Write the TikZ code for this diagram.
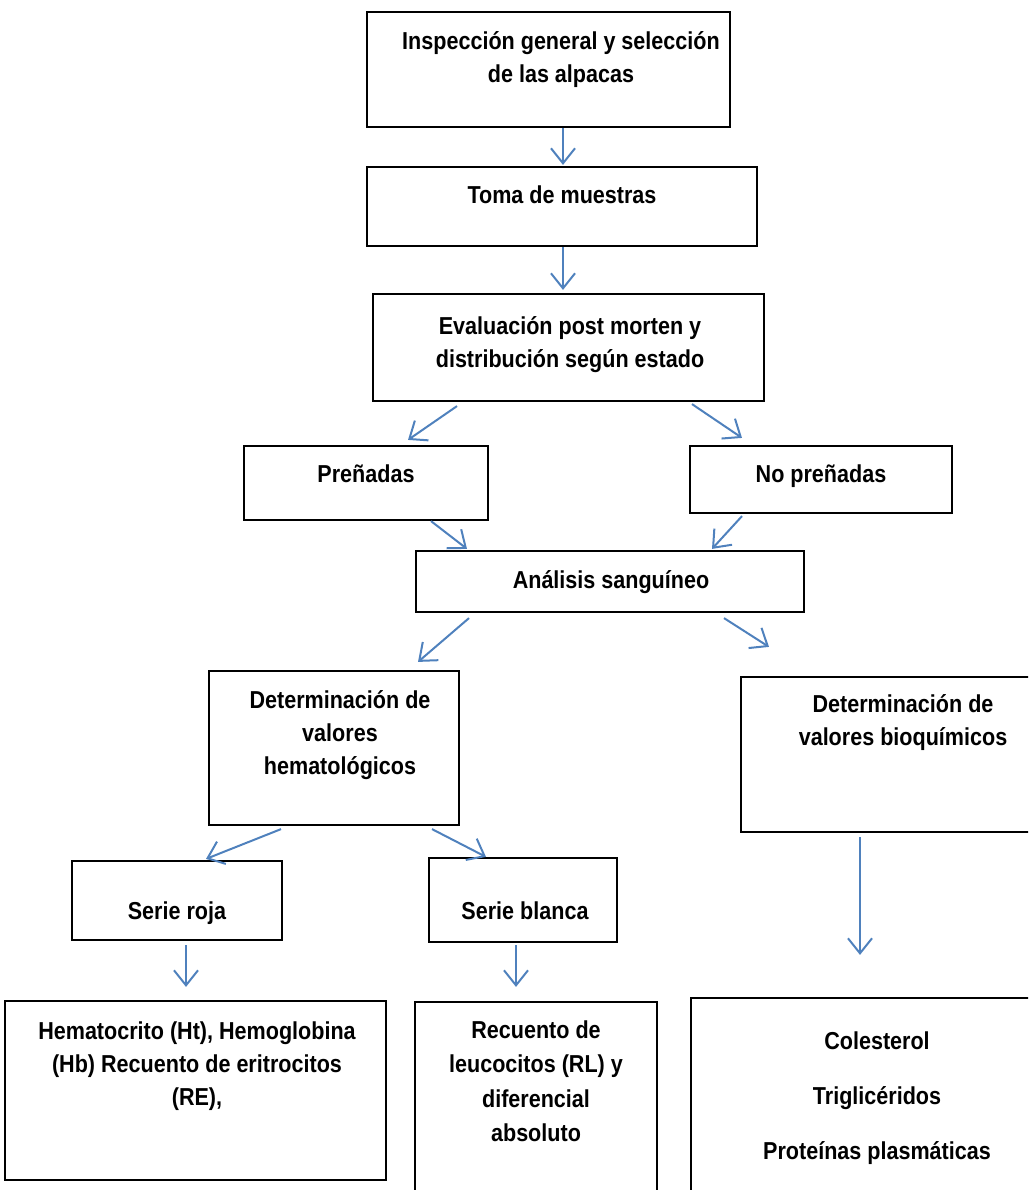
\documentclass[tikz,border=0pt]{standalone}
\usepackage{fontspec}
\setmainfont{Liberation Sans}[FakeStretch=0.88]
\usetikzlibrary{arrows.meta,calc}
\definecolor{arrblue}{RGB}{79,129,189}
\tikzset{
  box/.style={draw=black,line width=2.2pt,rectangle,inner sep=0pt},
  txt/.style={anchor=north,inner sep=0pt,align=center,font=\bfseries\fontsize{24.5}{33}\selectfont},
  arr/.style={draw=arrblue,line width=2pt,-{Straight Barb[length=15pt,width=24pt,line width=2pt]}}
}
\begin{document}
\begin{tikzpicture}[x=1pt,y=-1pt]
\useasboundingbox (0,0) rectangle (1028,1190);
\clip (0,0) rectangle (1028,1190);
% boxes
\node[box,minimum width=363pt,minimum height=115pt] (b1) at (548.5,69.5) {};
\node[box,minimum width=390pt,minimum height=79pt] (b2) at (562,206.5) {};
\node[box,minimum width=391pt,minimum height=107pt] (b3) at (568.5,347.5) {};
\node[box,minimum width=244pt,minimum height=74pt] (pre) at (366,483) {};
\node[box,minimum width=262pt,minimum height=67pt] (nop) at (821,479.5) {};
\node[box,minimum width=388pt,minimum height=61pt] (ana) at (610,581.5) {};
\node[box,minimum width=250pt,minimum height=154pt] (dh) at (334,748) {};
\node[box,minimum width=299pt,minimum height=155pt] (db) at (890.5,754.5) {};
\node[box,minimum width=210pt,minimum height=79pt] (sr) at (177,900.5) {};
\node[box,minimum width=188pt,minimum height=84pt] (sb) at (523,900) {};
\node[box,minimum width=381pt,minimum height=179pt] (bl) at (195.5,1090.5) {};
\node[box,minimum width=242pt,minimum height=198pt] (bm) at (536,1101) {};
\node[box,minimum width=349pt,minimum height=202pt] (br) at (865.5,1099) {};
% texts
\node[txt] (t1) at (561,26) {\strut Inspección general y selección\\de las alpacas};
\node[txt] (t2) at (562,180) {\strut Toma de muestras};
\node[txt] (t3) at (570,311) {\strut Evaluación post morten y\\distribución según estado};
\node[txt] (t4) at (366,459) {\strut Preñadas};
\node[txt] (t5) at (821,459) {\strut No preñadas};
\node[txt] (t6) at (611,565) {\strut Análisis sanguíneo};
\node[txt] (t7) at (340,685) {\strut Determinación de\\valores\\hematológicos};
\node[txt] (t8) at (903,689) {\strut Determinación de\\valores bioquímicos};
\node[txt] (t9) at (177,896) {\strut Serie roja};
\node[txt] (t10) at (525,896) {\strut Serie blanca};
\node[txt] (t11) at (197,1016) {\strut Hematocrito (Ht), Hemoglobina\\(Hb) Recuento de eritrocitos\\(RE),};
\node[txt,font=\bfseries\fontsize{24.5}{34.5}\selectfont] (t12) at (536,1014) {\strut Recuento de\\leucocitos (RL) y\\diferencial\\absoluto};
\node[txt,font=\bfseries\fontsize{24.5}{55}\selectfont] (t13) at (877,1011) {\strut Colesterol\\Triglicéridos\\Proteínas plasmáticas};
% arrows
\draw[arr] ($(b1.south)+(14.5,0)$) -- ($(b2.north)+(1,-1)$);
\draw[arr] ($(b2.south)+(1,0)$) -- ($(b3.north)+(-5.5,-3)$);
\draw[arr] ($(b3.south)+(-111.5,4)$) -- ($(pre.north)+(42,-5)$);
\draw[arr] ($(b3.south)+(123.5,2)$) -- ($(nop.north)+(-79,-7)$);
\draw[arr] ($(pre.south)+(65,0)$) -- ($(ana.north)+(-143,-1)$);
\draw[arr] ($(nop.south)+(-79,2)$) -- ($(ana.north)+(102,-1)$);
\draw[arr] ($(ana.south)+(-141,5)$) -- ($(dh.north)+(84,-8)$);
\draw[arr] ($(ana.south)+(114,5)$) -- ($(db.north)+(-121.5,-29)$);
\draw[arr] ($(dh.south)+(-53,3)$) -- ($(sr.north)+(29,-1)$);
\draw[arr] ($(dh.south)+(98,3)$) -- ($(sb.north)+(-37,0)$);
\draw[arr] ($(sr.south)+(9,4)$) -- ($(bl.north)+(-9.5,-13)$);
\draw[arr] ($(sb.south)+(-7,2)$) -- ($(bm.north)+(-20,-14)$);
\draw[arr] ($(db.south)+(-30.5,4)$) -- ($(br.north)+(-5.5,-42)$);
\end{tikzpicture}
\end{document}
